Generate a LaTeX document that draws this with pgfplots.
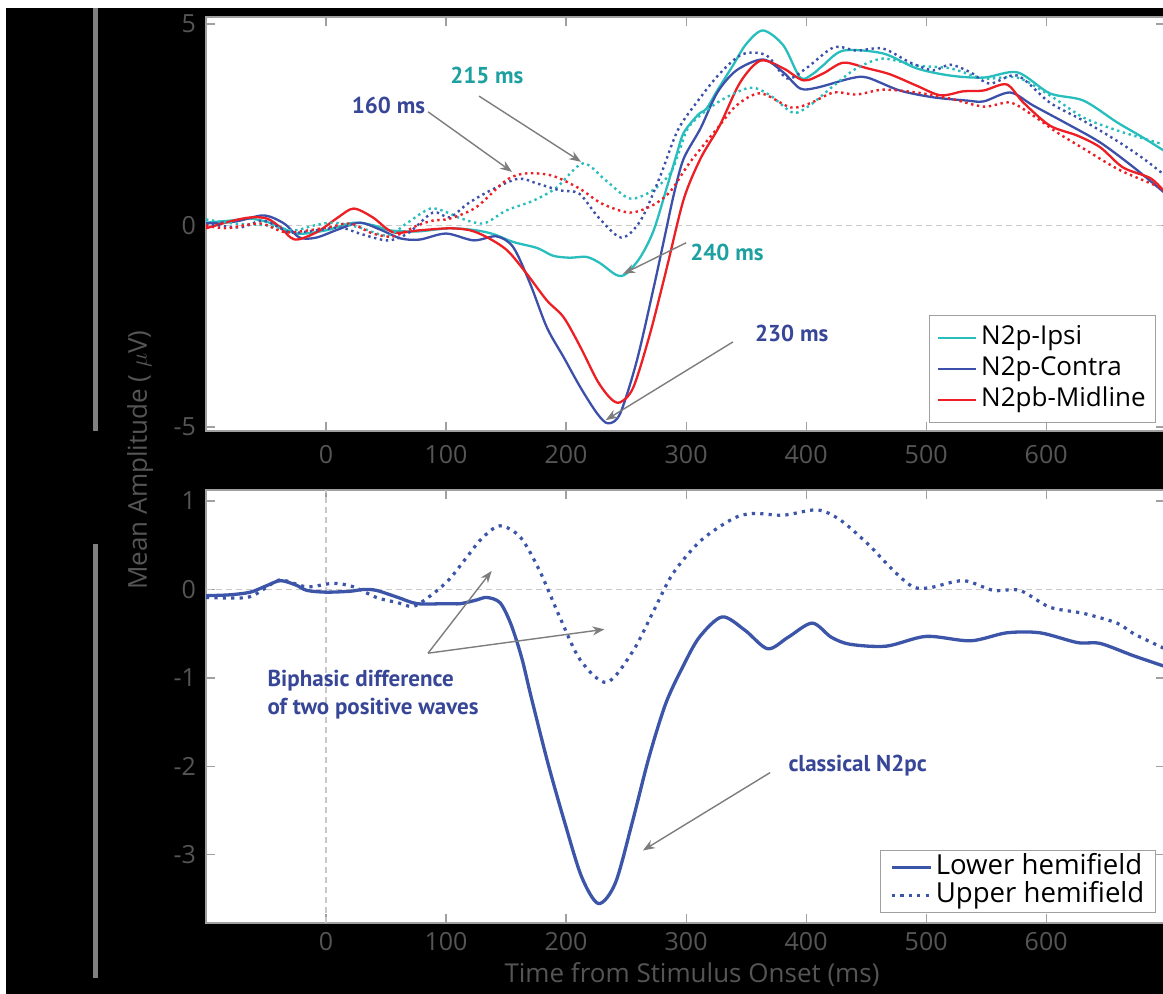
\documentclass[border=0pt]{standalone}
\usepackage{pgfplots}
\pgfplotsset{compat=1.18}
\usepackage{fontspec}
\setmainfont{Open Sans}
\newfontfamily\annfont{PT Sans}
\usetikzlibrary{arrows.meta}
\definecolor{cIpsi}{RGB}{40,190,190}
\definecolor{cContra}{RGB}{60,80,170}
\definecolor{cMid}{RGB}{237,30,36}
\definecolor{cLow}{RGB}{60,85,168}
\definecolor{annTeal}{RGB}{30,160,160}
\definecolor{annBlue}{RGB}{55,70,150}
\definecolor{tickgray}{RGB}{85,85,85}
\definecolor{framegray}{RGB}{160,160,160}
\definecolor{arrowgray}{RGB}{125,125,125}
\definecolor{bargray}{RGB}{128,128,128}
\definecolor{gridgray}{RGB}{200,200,200}
\newcommand{\tickfont}{\fontsize{12.5}{14}\selectfont}
\newcommand{\legfont}{\fontsize{13}{15}\selectfont}
\newcommand{\leglfont}{\fontsize{13.8}{15}\selectfont}
\newcommand{\annf}{\annfont\bfseries\fontsize{11.5}{14}\selectfont}
\pgfplotsset{
  common/.style={
    scale only axis, width=479.5pt,
    xmin=-100, xmax=699,
    axis background/.style={fill=white},
    axis line style={framegray, line width=0.6pt},
    tick style={framegray, line width=0.6pt},
    major tick length=4.5pt, tick align=inside,
    xtick pos=both, ytick pos=both,
    xticklabel pos=lower, yticklabel pos=left,
    xtick={0,100,...,600},
    /pgf/number format/assume math mode=true,
    xticklabel style={font=\tickfont, text=tickgray},
    yticklabel style={font=\tickfont, text=tickgray, xshift=-1.5pt},
    legend cell align=left,
  },
  thinsolid/.style={line width=1.15pt, smooth},
  thindot/.style={line width=1.2pt, smooth, dash pattern=on 1.2pt off 1.8pt},
}
\begin{document}
\begin{tikzpicture}
\useasboundingbox (0,0) rectangle (581.5pt,497pt);
\clip (0,0) rectangle (581.5pt,497pt);
\fill[white] (0,0) rectangle (581.5pt,497pt);
\fill[black] (3pt,0) rectangle (581.5pt,493pt);
\fill[bargray] (46.5pt,281.5pt) rectangle (49pt,493pt);
\fill[bargray] (46.5pt,8pt) rectangle (49pt,225pt);

% ---------------- top axis
\begin{axis}[common, at={(103pt,281.5pt)}, anchor=south west,
  height=207pt, ymin=-5.1, ymax=5.174, ytick={-5,0,5},
  xticklabel style={yshift=-3.5pt},
  legend image code/.code={\draw[#1] (0pt,0pt) -- (19pt,0pt);},
  legend style={at={(0.9906,0.0193)}, anchor=south east,
      draw=framegray, fill=white, font=\legfont,
      inner xsep=4pt, inner ysep=4pt, row sep=1pt,
      nodes={inner sep=1pt, text height=9.5pt, text depth=3pt},
      /tikz/every odd column/.style={column sep=1pt}}]
\draw[gridgray, line width=0.6pt, dash pattern=on 3pt off 2pt] (axis cs:-100,0) -- (axis cs:699,0);
% N2p-Ipsi solid
\addplot[cIpsi, thinsolid] coordinates {
(-100,0.07) (-80,0.12) (-63,0.17) (-45,0.05) (-24,-0.2) (0,-0.12) (23,0.07) (40,0.0) (53,-0.12) (75,-0.15) (103,-0.07) (125,-0.12) (140,-0.22) (156,-0.41) (176,-0.56) (189,-0.75) (203,-0.8) (217,-0.78) (228,-0.93) (242,-1.23) (250,-1.2) (262,-0.78) (273,-0.12) (284,0.95) (292,1.75) (298,2.3) (310,2.75) (317,2.9) (326,3.35) (339,3.97) (350,4.5) (364,4.84) (381,4.47) (395,3.67) (405,3.75) (414,3.97) (431,4.34) (464,4.27) (492,3.9) (520,3.72) (548,3.67) (576,3.8) (603,3.28) (631,3.1) (659,2.56) (678,2.23) (699,1.84)};
\addlegendentry{N2p-Ipsi}
% N2p-Contra solid
\addplot[cContra, thinsolid] coordinates {
(-100,0.05) (-75,0.1) (-52,0.25) (-35,0.05) (-22,-0.3) (-8,-0.3) (10,-0.1) (28,0.07) (45,-0.1) (62,-0.32) (78,-0.35) (100,-0.2) (123,-0.37) (142,-0.27) (156,-0.54) (170,-1.44) (184,-2.53) (198,-3.27) (212,-4.02) (226,-4.67) (235,-4.91) (245,-4.67) (259,-3.35) (273,-1.54) (282,-0.3) (290,0.8) (298,1.66) (312,2.41) (326,3.3) (342,3.85) (364,4.12) (381,3.8) (395,3.4) (409,3.42) (437,3.65) (451,3.67) (478,3.35) (506,3.18) (534,3.1) (548,3.08) (570,3.3) (589,2.98) (617,2.53) (645,2.06) (673,1.44) (699,0.8)};
\addlegendentry{N2p-Contra}
% N2pb-Midline solid
\addplot[cMid, thinsolid] coordinates {
(-100,-0.07) (-80,0.1) (-63,0.2) (-49,0.17) (-38,-0.05) (-26,-0.35) (-8,-0.17) (10,0.2) (23,0.42) (39,0.2) (56,-0.17) (78,-0.12) (103,-0.07) (120,-0.12) (134,-0.29) (151,-0.62) (167,-1.19) (184,-1.86) (198,-2.28) (212,-3.02) (226,-3.85) (237,-4.29) (245,-4.39) (256,-4.02) (270,-2.68) (284,-1.04) (298,0.65) (312,1.66) (328,2.48) (345,3.55) (362,4.09) (381,3.9) (398,3.6) (414,3.77) (431,4.04) (451,3.9) (470,3.75) (492,3.47) (512,3.23) (531,3.33) (548,3.35) (567,3.5) (581,3.05) (603,2.48) (626,2.23) (645,1.94) (664,1.44) (687,1.17) (699,0.82)};
\addlegendentry{N2pb-Midline}
% dotted
\addplot[cIpsi, thindot, forget plot] coordinates {
(-100,0.15) (-77,0.05) (-49,0.0) (-27,-0.12) (-10,0.0) (6,0.07) (28,-0.05) (51,-0.25) (68,0.07) (87,0.42) (103,0.3) (110,0.2) (131,0.05) (150,0.37) (173,0.62) (192,0.94) (214,1.54) (233,1.12) (253,0.67) (272,0.87) (287,1.3) (295,1.9) (303,2.48) (326,3.05) (353,3.42) (370,3.23) (389,2.8) (403,2.98) (423,3.47) (442,3.9) (464,4.14) (492,3.97) (520,3.9) (548,3.65) (576,3.67) (603,3.23) (631,2.68) (659,2.36) (681,2.16) (699,2.0)};
\addplot[cContra, thindot, forget plot] coordinates {
(-100,0.05) (-72,-0.05) (-52,0.12) (-30,-0.17) (-8,-0.12) (12,-0.05) (28,-0.2) (51,-0.37) (68,-0.2) (89,0.32) (103,0.2) (118,0.54) (137,0.87) (160,1.16) (176,1.04) (195,0.87) (211,0.79) (227,0.2) (246,-0.3) (262,0.12) (278,1.19) (293,2.36) (310,3.1) (328,3.77) (347,4.25) (367,4.22) (384,3.65) (400,3.9) (423,4.42) (442,4.34) (464,4.39) (487,4.04) (506,3.85) (520,3.99) (537,3.8) (553,3.52) (576,3.72) (603,3.05) (631,2.6) (659,2.1) (681,1.66) (699,1.24)};
\addplot[cMid, thindot, forget plot] coordinates {
(-100,0.0) (-83,-0.07) (-55,0.05) (-33,-0.17) (1,-0.05) (20,0.05) (39,-0.2) (56,-0.27) (76,0.0) (89,0.12) (103,0.17) (125,0.45) (150,1.12) (166,1.29) (188,1.24) (211,0.92) (230,0.54) (253,0.32) (272,0.5) (287,0.85) (303,1.56) (326,2.41) (342,2.98) (362,3.28) (387,2.93) (403,3.03) (423,3.3) (442,3.25) (464,3.37) (492,3.3) (520,3.15) (548,2.95) (570,3.05) (589,2.73) (609,2.31) (631,1.91) (659,1.41) (681,1.12) (699,0.9)};
% annotations
\node[font=\annf, text=annTeal] at (axis cs:134,3.73) {215 ms};
\node[font=\annf, text=annBlue] at (axis cs:52,2.99) {160 ms};
\node[font=\annf, text=annTeal] at (axis cs:334,-0.66) {240 ms};
\node[font=\annf, text=annBlue] at (axis cs:388,-2.69) {230 ms};
\draw[arrowgray, line width=0.7pt, -{Stealth[length=6pt,width=4.5pt]}] (axis cs:85,2.82) -- (axis cs:155,1.33);
\draw[arrowgray, line width=0.7pt, -{Stealth[length=6pt,width=4.5pt]}] (axis cs:127.5,3.21) -- (axis cs:212.5,1.58);
\draw[arrowgray, line width=0.7pt, -{Stealth[length=6pt,width=4.5pt]}] (axis cs:300,-0.43) -- (axis cs:247.5,-1.2);
\draw[arrowgray, line width=0.7pt, -{Stealth[length=6pt,width=4.5pt]}] (axis cs:339,-2.89) -- (axis cs:233,-4.83);
\end{axis}

% ---------------- bottom axis
\begin{axis}[common, at={(103pt,35.5pt)}, anchor=south west,
  height=216.5pt, ymin=-3.77, ymax=1.125, ytick={-3,-2,-1,0,1},
  xticklabel style={yshift=-1pt},
  legend image code/.code={\draw[#1] (0pt,0pt) -- (19.5pt,0pt);},
  legend style={at={(0.9906,0.0231)}, anchor=south east,
      draw=framegray, fill=white, font=\leglfont,
      inner xsep=5pt, inner ysep=1.5pt, row sep=0pt,
      nodes={inner sep=0.6pt, text height=10pt, text depth=2.8pt},
      /tikz/every odd column/.style={column sep=1pt}}]
\draw[gridgray, line width=0.6pt, dash pattern=on 3pt off 2pt] (axis cs:-100,0) -- (axis cs:699,0);
\draw[gridgray, line width=0.6pt, dash pattern=on 3pt off 2pt] (axis cs:0,-3.77) -- (axis cs:0,1.125);
\addplot[cLow, line width=1.65pt, smooth] coordinates {
(-100,-0.07) (-80,-0.06) (-63,-0.03) (-50,0.04) (-38,0.10) (-25,0.05) (-16,-0.01) (0,-0.03) (20,-0.02) (31,0.0) (42,-0.01) (60,-0.09) (76,-0.16) (100,-0.16) (112,-0.16) (125,-0.12) (134,-0.09) (145,-0.15) (154,-0.39) (163,-0.77) (171,-1.22) (185,-1.97) (199,-2.64) (213,-3.25) (227,-3.55) (241,-3.32) (255,-2.64) (269,-1.90) (283,-1.29) (297,-0.88) (311,-0.54) (330,-0.31) (349,-0.46) (368,-0.67) (385,-0.54) (405,-0.38) (421,-0.54) (437,-0.62) (467,-0.64) (500,-0.53) (537,-0.58) (567,-0.49) (595,-0.49) (626,-0.60) (645,-0.61) (673,-0.75) (699,-0.87)};
\addlegendentry{Lower hemifield}
\addplot[cLow, line width=1.6pt, smooth, dash pattern=on 1.6pt off 2.6pt] coordinates {
(-100,-0.09) (-66,-0.09) (-50,0.02) (-38,0.11) (-16,0.03) (6,0.07) (23,0.03) (42,-0.09) (60,-0.15) (73,-0.19) (89,-0.05) (103,0.12) (117,0.36) (130,0.58) (145,0.72) (162,0.59) (178,0.21) (195,-0.32) (212,-0.80) (234,-1.05) (256,-0.69) (273,-0.24) (289,0.18) (312,0.55) (339,0.80) (356,0.86) (381,0.84) (409,0.90) (428,0.79) (451,0.52) (473,0.21) (489,0.03) (503,0.02) (531,0.10) (556,-0.01) (578,-0.01) (603,-0.20) (631,-0.27) (659,-0.38) (673,-0.50) (699,-0.67)};
\addlegendentry{Upper hemifield}
\node[font=\annf, text=annBlue, anchor=west, align=left, inner sep=0pt] at (axis cs:-49,-1.19) {Biphasic difference\\of two positive waves};
\node[font=\annf, text=annBlue, anchor=west, inner sep=0pt] at (axis cs:385,-1.99) {classical N2pc};
\draw[arrowgray, line width=0.7pt, -{Stealth[length=6pt,width=4.5pt]}] (axis cs:85,-0.72) -- (axis cs:138,0.21);
\draw[arrowgray, line width=0.7pt, -{Stealth[length=6pt,width=4.5pt]}] (axis cs:85,-0.72) -- (axis cs:232,-0.45);
\draw[arrowgray, line width=0.7pt, -{Stealth[length=6pt,width=4.5pt]}] (axis cs:370,-2.07) -- (axis cs:264,-2.95);
\end{axis}

\node[rotate=90, font=\fontsize{13}{15}\selectfont, text=tickgray] at (70pt,267pt) {Mean Amplitude ( $\mu$V)};
\node[font=\fontsize{13}{15}\selectfont, text=tickgray] at (346pt,9.5pt) {Time from Stimulus Onset (ms)};
\end{tikzpicture}
\end{document}
